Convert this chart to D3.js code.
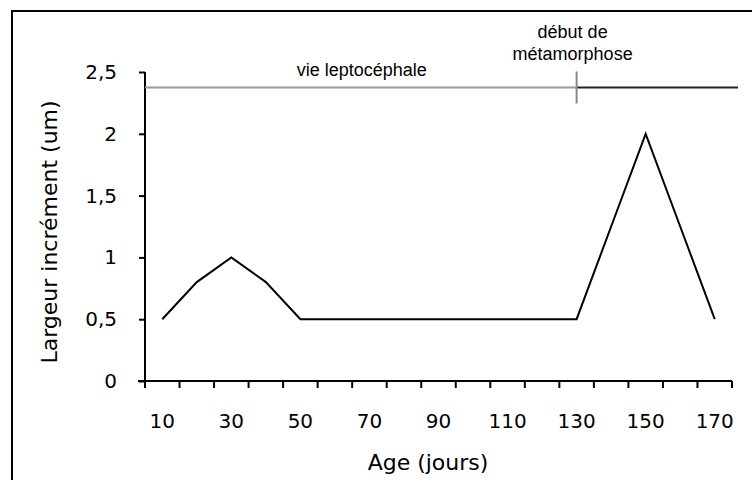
<!DOCTYPE html>
<html>
<head>
<meta charset="utf-8">
<script src="https://cdn.jsdelivr.net/npm/d3@7"></script>
<style>
  body { margin: 0; background: #fff; }
</style>
</head>
<body>
<div id="content"></div>
<script>
// data
var ages = [10, 20, 30, 40, 50, 60, 70, 80, 90, 100, 110, 120, 130, 140, 150, 160, 170]
var largeur = [0.5, 0.8, 1, 0.8, 0.5, 0.5, 0.5, 0.5, 0.5, 0.5, 0.5, 0.5, 0.5, 1.25, 2, 1.25, 0.5]
var yTicks = [0, 0.5, 1, 1.5, 2, 2.5]
var xLabels = [10, 30, 50, 70, 90, 110, 130, 150, 170]
var phaseLevel = 2.375
var phaseSplit = 130
var phaseText = "vie leptocéphale"
var metaText = ["début de", "métamorphose"]

svgwidth = 752
svgheight = 480
margin = {top: 72, right: 20, bottom: 99, left: 145}
plotW = 732 - margin.left
plotH = svgheight - margin.top - margin.bottom

var svg = d3.select("#content").append("svg")
  .attr("width", svgwidth)
  .attr("height", svgheight)

// outer frame, runs off the right and bottom edges
svg.append("rect")
  .attr("x", 12).attr("y", 11)
  .attr("width", 760).attr("height", 500)
  .attr("fill", "none")
  .attr("stroke", "#000")
  .attr("stroke-width", 2)

var x = d3.scaleBand()
  .domain(ages)
  .range([0, plotW])
  .padding(0)

var y = d3.scaleLinear()
  .domain([0, 2.5])
  .range([plotH, 0])

g = svg.append("g").attr("transform", "translate(" + margin.left + "," + margin.top + ")")

// y axis
var yAxis = g.append("g")
  .call(d3.axisLeft(y).tickValues(yTicks).tickSize(6).tickPadding(22)
    .tickFormat(function(d) { return String(d).replace(".", ","); }))
yAxis.select(".domain").attr("stroke-width", 2).attr("d", "M0," + (plotH + 1) + "V0")
yAxis.selectAll(".tick line").attr("stroke-width", 2)
yAxis.selectAll("text")
  .style("font-family", "'DejaVu Sans', Verdana, sans-serif")
  .style("font-size", "20px")
  .attr("fill", "#000")

// x axis: ticks on the category boundaries, labels every other category
var bounds = ages.map(function(a) { return x(a); }).concat([plotW])
var xAxis = g.append("g").attr("transform", "translate(0," + plotH + ")")
xAxis.append("path")
  .attr("d", "M-7,0H" + plotW)
  .attr("stroke", "#000")
  .attr("stroke-width", 2)
xAxis.selectAll(".xtick").data(bounds).enter().append("line")
  .attr("x1", function(d) { return d; })
  .attr("x2", function(d) { return d; })
  .attr("y1", 0).attr("y2", 7)
  .attr("stroke", "#000")
  .attr("stroke-width", 2)
xAxis.selectAll(".xlab").data(xLabels).enter().append("text")
  .attr("x", function(d) { return x(d) + x.bandwidth() / 2; })
  .attr("y", 47)
  .attr("text-anchor", "middle")
  .style("font-family", "'DejaVu Sans', Verdana, sans-serif")
  .style("font-size", "20px")
  .attr("fill", "#000")
  .text(function(d) { return d; })

// axis titles
svg.append("text")
  .attr("x", 428).attr("y", 470)
  .attr("text-anchor", "middle")
  .style("font-family", "'DejaVu Sans', Verdana, sans-serif")
  .style("font-size", "22px")
  .attr("fill", "#000")
  .text("Age (jours)")
svg.append("text")
  .attr("transform", "translate(57,232) rotate(-90)")
  .attr("text-anchor", "middle")
  .style("font-family", "'DejaVu Sans', Verdana, sans-serif")
  .style("font-size", "22px")
  .attr("fill", "#000")
  .text("Largeur incrément (um)")

// the data line
var line = d3.line()
  .x(function(d, i) { return x(ages[i]) + x.bandwidth() / 2; })
  .y(function(d) { return y(d); })
g.append("path")
  .datum(largeur)
  .attr("d", line)
  .attr("fill", "none")
  .attr("stroke", "#000")
  .attr("stroke-width", 2)

// phase annotation
var splitX = x(phaseSplit) + x.bandwidth() / 2
g.append("line")
  .attr("x1", 0).attr("x2", splitX)
  .attr("y1", y(phaseLevel)).attr("y2", y(phaseLevel))
  .attr("stroke", "#999").attr("stroke-width", 2)
g.append("line")
  .attr("x1", splitX).attr("x2", plotW + 6)
  .attr("y1", y(phaseLevel)).attr("y2", y(phaseLevel))
  .attr("stroke", "#222").attr("stroke-width", 2)
g.append("line")
  .attr("x1", splitX).attr("x2", splitX)
  .attr("y1", y(phaseLevel) - 16).attr("y2", y(phaseLevel) + 16)
  .attr("stroke", "#888").attr("stroke-width", 2)

g.append("text")
  .attr("x", splitX / 2 + 1).attr("y", y(phaseLevel) - 11)
  .attr("text-anchor", "middle")
  .style("font-family", "'Liberation Sans', Arial, sans-serif")
  .style("font-size", "18px")
  .attr("fill", "#000")
  .text(phaseText)
metaText.forEach(function(t, i) {
  g.append("text")
    .attr("x", splitX - 4).attr("y", y(phaseLevel) - 49 + i * 22)
    .attr("text-anchor", "middle")
    .style("font-family", "'Liberation Sans', Arial, sans-serif")
    .style("font-size", "18px")
    .attr("fill", "#000")
    .text(t)
})
</script>
</body>
</html>
